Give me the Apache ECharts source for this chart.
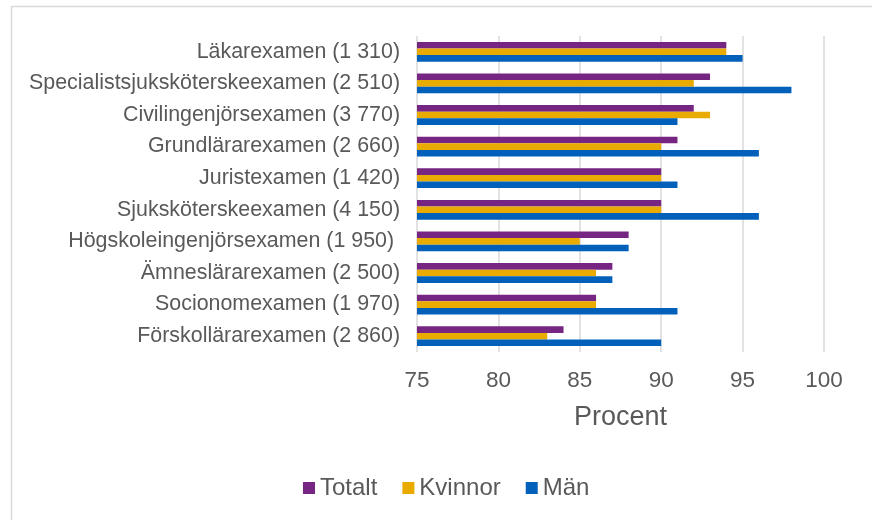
<!DOCTYPE html>
<html>
<head>
<meta charset="utf-8">
<script src="https://cdn.jsdelivr.net/npm/echarts@6/dist/echarts.min.js"></script>
<style>
html,body{margin:0;padding:0;background:#fff;}
#main{width:872px;height:520px;}
</style>
</head>
<body>
<div id="main"></div>
<script>
var categories = ['Läkarexamen (1 310)', 'Specialistsjuksköterskeexamen (2 510)', 'Civilingenjörsexamen (3 770)',
    'Grundlärarexamen (2 660)', 'Juristexamen (1 420)', 'Sjuksköterskeexamen (4 150)',
    'Högskoleingenjörsexamen (1 950) ', 'Ämneslärarexamen (2 500)', 'Socionomexamen (1 970)', 'Förskollärarexamen (2 860)'];
var totalt  = [94, 93, 92, 91, 90, 90, 88, 87, 86, 84];
var kvinnor = [94, 92, 93, 90, 90, 90, 85, 86, 86, 83];
var man     = [95, 98, 91, 96, 91, 96, 88, 87, 91, 90];
var xTicks = [75, 100, 5];

var myChart = echarts.init(document.getElementById('main'));

var txt = '#595959';
var option = {
    animation: false,
    textStyle: { fontFamily: 'Liberation Sans' },
    graphic: [{
        type: 'rect',
        shape: { x: 11.5, y: 6.5, width: 900, height: 600 },
        style: { fill: 'none', stroke: '#d9d9d9', lineWidth: 1.5 }
    }],
    legend: {
        top: 471,
        left: 298,
        itemWidth: 12,
        itemHeight: 12,
        itemGap: 25,
        icon: 'rect',
        textStyle: { fontSize: 24, color: txt }
    },
    grid: { left: 417, right: 48, top: 36, bottom: 168 },
    xAxis: {
        type: 'value',
        min: xTicks[0],
        max: xTicks[1],
        interval: xTicks[2],
        name: 'Procent',
        nameLocation: 'middle',
        nameGap: 52,
        nameTextStyle: { fontSize: 27, color: txt },
        axisLine: { show: false },
        axisTick: { show: false },
        axisLabel: { fontSize: 22.5, color: txt, margin: 17 },
        splitLine: { lineStyle: { color: '#d9d9d9', width: 1.5 } }
    },
    yAxis: {
        type: 'category',
        inverse: true,
        data: categories,
        axisLine: { show: false },
        axisTick: { show: false },
        axisLabel: { fontSize: 21.4, color: txt, margin: 17 }
    },
    series: [
        { name: 'Totalt', type: 'bar', data: totalt, barWidth: 6.6, barGap: '0%', itemStyle: { color: '#772583' } },
        { name: 'Kvinnor', type: 'bar', data: kvinnor, barWidth: 6.6, barGap: '0%', itemStyle: { color: '#EAAB00' } },
        { name: 'Män', type: 'bar', data: man, barWidth: 6.6, barGap: '0%', itemStyle: { color: '#0060BA' } }
    ]
};
myChart.setOption(option);
</script>
</body>
</html>
